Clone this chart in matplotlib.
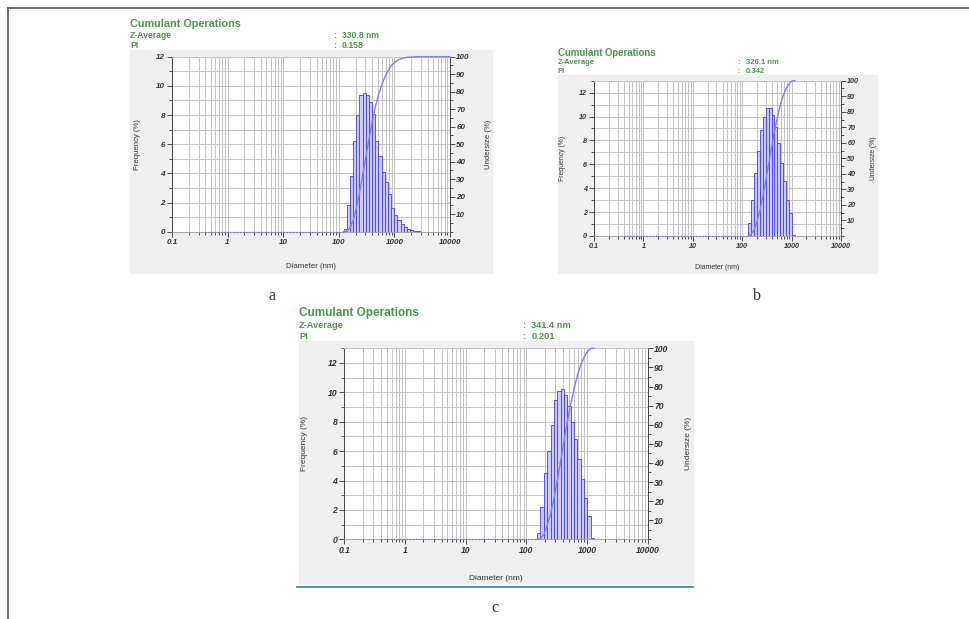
import numpy as np
import matplotlib.pyplot as plt
from matplotlib.patches import Rectangle
from matplotlib.lines import Line2D
from matplotlib.ticker import FixedLocator, MultipleLocator, LogLocator, NullFormatter

plt.rcParams['font.family'] = ['Liberation Sans', 'DejaVu Sans']

W, H = 969, 619

x_ticks = [0.1, 1, 10, 100, 1000, 10000]
x_labels = ['0.1', '1', '10', '100', '1000', '10000']

# panel a
a_edges = [122, 139, 159, 181, 206, 235, 268, 306, 349, 397, 453, 517, 589, 671,
           765, 873, 995, 1134, 1293, 1474, 1680, 1915, 2184, 2489, 2838]
a_freq = [0.2, 1.8, 3.8, 6.2, 8.0, 9.35, 9.5, 9.4, 8.9, 8.1, 6.2, 5.2, 4.1, 3.4,
          2.6, 1.65, 1.15, 0.8, 0.5, 0.32, 0.18, 0.1, 0.06, 0.03]
a_zavg, a_pi = '330.8 nm', '0.158'

# panel b
b_edges = [133, 152, 174, 200, 229, 262, 300, 343, 393, 450, 515, 590, 676, 774,
           886, 1014, 1161]
b_freq = [1.1, 3.0, 5.25, 7.1, 8.9, 10.0, 10.7, 10.7, 10.1, 9.1, 7.8, 6.1, 4.6,
          3.0, 1.9, 0.05]
b_zavg, b_pi = '326.1 nm', '0.342'

# panel c
c_edges = [151, 171, 195, 221, 251, 285, 324, 368, 418, 474, 538, 611, 694, 788,
           895, 1016, 1154, 1310]
c_freq = [0.4, 2.2, 4.5, 6.0, 7.8, 9.5, 10.1, 10.2, 9.8, 9.1, 8.0, 6.8, 5.45, 4.1,
          2.8, 1.6, 0.07]
c_zavg, c_pi = '341.4 nm', '0.201'

GREEN = '#4a9848'
BAR_EDGE = '#4040f0'
BAR_FACE = '#cacafc'
CURVE = '#7e7eff'
GRID = '#c4c4c4'

fig = plt.figure(figsize=(W / 100, H / 100), dpi=100)


def fx(x):
    return x / W


def fy(y):
    return 1 - y / H


def panel(edges, freq, zavg, pi, bg, plot, ymax, s, text_y, colon_x, lab_pos, tail):
    # grey report background
    l, t, r, b = bg
    fig.patches.append(Rectangle((fx(l), fy(b)), (r - l) / W, (b - t) / H,
                                 transform=fig.transFigure, color='#efefef',
                                 zorder=-10))
    # header text
    fig.text(fx(l), fy(text_y[0]), 'Cumulant Operations', color=GREEN,
             fontsize=7.8 * s, fontweight='bold', va='center')
    for lab, val, yy in [('Z-Average', zavg, text_y[1]), ('PI', pi, text_y[2])]:
        fig.text(fx(l), fy(yy), lab, color=GREEN, fontsize=6.2 * s,
                 fontweight='bold', va='center')
        fig.text(fx(colon_x), fy(yy), ':', color=GREEN, fontsize=6.2 * s,
                 fontweight='bold', va='center')
        fig.text(fx(colon_x + 9 * s), fy(yy), val, color=GREEN, fontsize=6.2 * s,
                 fontweight='bold', va='center')

    pl, pt, pr, pb = plot
    ax = fig.add_axes([fx(pl), fy(pb), (pr - pl) / W, (pb - pt) / H])
    ax.set_facecolor('white')
    ax.set_xscale('log')
    ax.set_xlim(0.1, 10000)
    ax.set_ylim(0, ymax)

    edges = np.array(edges, dtype=float)
    freq = np.array(freq, dtype=float)
    ax.bar(edges[:-1], freq, width=np.diff(edges), align='edge',
           facecolor=BAR_FACE, edgecolor=BAR_EDGE, linewidth=0.6, zorder=3)
    ax.plot([0.4, edges[0]], [0, 0], ls=(0, (1, 1.5)), color='#6a6aff',
            lw=0.9, zorder=4, clip_on=False)

    ax.xaxis.set_major_locator(FixedLocator(x_ticks))
    ax.xaxis.set_minor_locator(LogLocator(base=10, subs=range(2, 10)))
    ax.xaxis.set_minor_formatter(NullFormatter())
    ax.set_xticklabels(x_labels, fontsize=5.8 * s, fontweight='bold',
                       fontstyle='italic')
    yt = list(range(0, 13, 2))
    ax.set_yticks(yt)
    ax.set_yticklabels([str(v) for v in yt], fontsize=5.8 * s,
                       fontweight='bold', fontstyle='italic')
    ax.yaxis.set_minor_locator(MultipleLocator(1))
    ax.tick_params(which='major', length=3.5, width=0.6, pad=1.5, colors='#333333')
    ax.tick_params(which='minor', length=2.2, width=0.6, colors='#333333')
    ax.grid(which='both', color=GRID, lw=0.75, zorder=0)
    ax.set_axisbelow(True)
    for side in ['left', 'right']:
        ax.spines[side].set_color('#444444')
        ax.spines[side].set_linewidth(0.7)
    ax.spines['bottom'].set_color('#999999')
    ax.spines['bottom'].set_linewidth(0.6)
    ax.spines['top'].set_color(GRID)
    ax.spines['top'].set_linewidth(0.7)

    ax2 = ax.twinx()
    ax2.set_ylim(0, 100)
    ax2.set_yticks(range(10, 101, 10))
    ax2.set_yticklabels([str(v) for v in range(10, 101, 10)], fontsize=5.8 * s,
                        fontweight='bold', fontstyle='italic')
    ax2.yaxis.set_minor_locator(MultipleLocator(5))
    ax2.tick_params(which='major', length=3.5, width=0.6, pad=1, colors='#333333')
    ax2.tick_params(which='minor', length=2.2, width=0.6, colors='#333333')
    for sp in ax2.spines.values():
        sp.set_visible(False)

    # undersize curve = running total of the frequency histogram
    cum = np.concatenate([[0], np.cumsum(freq)]) / freq.sum() * 100
    cx, cy = list(edges), list(cum)
    if tail:
        cx.append(10000)
        cy.append(100)
    ax2.plot(cx, cy, color=CURVE, lw=1.0, zorder=5, clip_on=False)

    xl, fl, ul = lab_pos
    fig.text(fx((pl + pr) / 2), fy(xl), 'Diameter (nm)', fontsize=5.6 * s,
             color='#333333', ha='center', va='center')
    fig.text(fx(fl), fy((pt + pb) / 2), 'Frequency (%)', fontsize=5.6 * s,
             color='#333333', ha='center', va='center', rotation=90)
    fig.text(fx(ul), fy((pt + pb) / 2), 'Undersize (%)', fontsize=5.6 * s,
             color='#333333', ha='center', va='center', rotation=90)
    return ax


panel(a_edges, a_freq, a_zavg, a_pi, bg=(130, 50, 492, 273),
      plot=(172, 56.7, 450, 231.7), ymax=12, s=1.0,
      text_y=(24.3, 35.7, 45.7), colon_x=333, lab_pos=(266.7, 137.7, 488), tail=True)
panel(b_edges, b_freq, b_zavg, b_pi, bg=(558, 75, 877, 273),
      plot=(594, 80.7, 841, 236), ymax=13, s=0.89,
      text_y=(52.7, 62.7, 71.7), colon_x=737.7, lab_pos=(267.7, 562.3, 873.3), tail=False)
panel(c_edges, c_freq, c_zavg, c_pi, bg=(299, 341, 693, 583),
      plot=(344.3, 348.3, 647.7, 539.3), ymax=13, s=1.08,
      text_y=(313.3, 325.7, 336.7), colon_x=521.7, lab_pos=(578.3, 305, 688.3), tail=False)

# page furniture: frame, panel letters, rule under c
fig.add_artist(Line2D([fx(8), fx(969)], [fy(8), fy(8)], color='#555555', lw=1.2))
fig.add_artist(Line2D([fx(8), fx(8)], [fy(8), fy(619)], color='#555555', lw=1.2))
fig.add_artist(Line2D([fx(297), fx(693)], [fy(587), fy(587)], color='#3a7bbf', lw=1.2))
for letter, x, y in [('a', 272, 296), ('b', 757, 296), ('c', 495, 608)]:
    fig.text(fx(x), fy(y), letter, fontsize=11.5, family='Liberation Serif',
             color='#333333', ha='center', va='center')

fig.savefig('out.png', dpi=100)
